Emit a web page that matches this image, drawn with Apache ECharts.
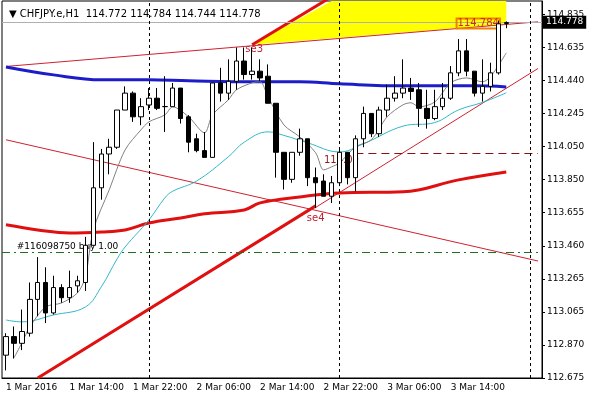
<!DOCTYPE html>
<html>
<head>
<meta charset="utf-8">
<script src="https://cdn.jsdelivr.net/npm/echarts@6/dist/echarts.min.js"></script>
<style>html,body{margin:0;padding:0;background:#fff}#chart{width:600px;height:400px}</style>
</head>
<body>
<div id="chart"></div>
<script>
// H1 bars, 1 Mar 2016 06:00 onwards: [open, close, low, high]
var candles = [
	[112.81,112.92,112.72,112.94],[112.92,112.88,112.79,112.98],[112.88,112.95,112.84,113.08],[112.94,113.14,112.92,113.24],
	[113.14,113.24,113.04,113.39],[113.24,113.06,113.00,113.33],[113.06,113.21,113.05,113.28],[113.21,113.15,113.12,113.23],
	[113.15,113.21,113.12,113.31],[113.22,113.25,113.18,113.28],[113.24,113.46,113.19,113.51],[113.46,113.80,113.46,114.07],
	[113.80,114.00,113.73,114.03],[114.00,114.04,113.88,114.09],[114.04,114.26,114.03,114.26],[114.26,114.36,114.26,114.40],
	[114.36,114.22,114.19,114.37],[114.22,114.28,114.17,114.33],[114.29,114.33,114.26,114.39],[114.33,114.27,114.26,114.39],
	[114.28,114.281,114.13,114.46],[114.28,114.39,114.28,114.42],[114.39,114.21,114.18,114.39],[114.22,114.07,114.01,114.23],
	[114.09,114.02,114.01,114.12],[114.02,113.98,113.98,114.13],[113.98,114.42,113.98,114.42],[114.42,114.36,114.31,114.51],
	[114.36,114.43,114.32,114.56],[114.43,114.55,114.38,114.63],[114.55,114.47,114.44,114.63],[114.47,114.49,114.44,114.63],
	[114.49,114.45,114.43,114.56],[114.46,114.30,114.30,114.53],[114.30,114.01,113.86,114.30],[114.01,113.85,113.79,114.01],
	[113.85,114.01,113.83,114.01],[114.01,114.09,113.99,114.15],[114.09,113.86,113.81,114.09],[113.86,113.83,113.68,113.92],
	[113.84,113.75,113.75,113.88],[113.75,113.83,113.71,113.87],[113.83,114.01,113.81,114.04],[114.01,113.86,113.82,114.01],
	[113.86,114.09,113.78,114.11],[114.09,114.24,114.04,114.28],[114.24,114.12,114.10,114.24],[114.12,114.26,114.10,114.28],
	[114.26,114.33,114.22,114.41],[114.33,114.36,114.31,114.46],[114.36,114.39,114.33,114.56],[114.39,114.37,114.32,114.45],
	[114.38,114.27,114.16,114.42],[114.27,114.21,114.15,114.38],[114.21,114.28,114.20,114.38],[114.28,114.33,114.26,114.42],
	[114.33,114.48,114.32,114.52],[114.48,114.61,114.46,114.68],[114.61,114.49,114.46,114.68],[114.49,114.36,114.34,114.49],
	[114.36,114.40,114.31,114.56],[114.40,114.48,114.37,114.54],[114.48,114.77,114.47,114.79],[114.772,114.778,114.744,114.784]
];
var slots = 68;
var timeLabels = ['1 Mar 2016','1 Mar 14:00','1 Mar 22:00','2 Mar 06:00','2 Mar 14:00','2 Mar 22:00','3 Mar 06:00','3 Mar 14:00','',''];
var priceTicks = ['112.675','112.870','113.065','113.265','113.460','113.655','113.850','114.050','114.245','114.440','114.635','114.835'];

// indicator lines: [bar index, price]
var maBlue = [[0,114.515],[6,114.468],[12,114.439],[18,114.439],[23,114.433],[31,114.427],[37,114.427],[42,114.415],[50,114.403],[59,114.403],[63,114.397]];
var maRed = [[0,113.581],[4,113.551],[8,113.533],[12,113.539],[15,113.551],[18,113.592],[22,113.622],[25,113.646],[30,113.669],[32,113.711],[37,113.746],[42,113.770],[50,113.776],[57,113.847],[63,113.894]];
var maCyan = [[0,113.018],[2,113.007],[6,113.048],[10,113.095],[12,113.214],[14,113.38],[15,113.45],[18,113.610],[20,113.74],[21,113.78],[24,113.84],[28,113.983],[30,114.07],[33,114.131],[35,114.11],[38,114.066],[42,114.012],[45,114.060],[50,114.165],[54,114.186],[57,114.261],[60,114.305],[63,114.362]];
var maGray = [[1,112.794],[2,112.882],[3,112.977],[5,113.095],[7,113.119],[9,113.178],[10,113.273],[11,113.551],[13,113.788],[15,114.024],[17,114.143],[18,114.190],[20,114.231],[21,114.279],[23,114.220],[25,114.125],[26,114.231],[28,114.320],[29,114.379],[31,114.421],[32,114.427],[33,114.338],[35,114.172],[37,114.101],[39,114.007],[40,113.906],[41,113.924],[42,113.947],[44,114.042],[46,114.084],[48,114.220],[50,114.291],[51,114.303],[52,114.279],[54,114.308],[56,114.421],[58,114.450],[60,114.427],[61,114.456],[63,114.598]];

// drawn objects
var channelTop = [[0,114.518],[67,114.782]];
var channelDown = [[0,114.084],[67,113.367]];
var trendUp = [[39,113.684],[67,114.506]];
var thickLow = [[4,112.675],[39,113.693]];
var thickHigh = [[31,114.646],[41,114.93]];
var triangle = [[31,114.646],[40.8,114.905],[63.4,114.905],[63.4,114.768]];

var cats = [];
for (var i = 0; i < slots; i++) {
	cats.push(i % 8 == 0 ? timeLabels[i / 8] : '');
}
var font = 'DejaVu Sans';

var chart = echarts.init(document.getElementById('chart'));
function plain(name, data, color, width, z, smooth) {
	return {name: name, type: 'line', data: data, symbol: 'none', silent: true, z: z || 3, smooth: smooth || false,
		lineStyle: {color: color, width: width}, animation: false};
}
option = {
	animation: false,
	title: {text: '\u25BC CHFJPY.e,H1  114.772 114.784 114.744 114.778', left: 4, top: 4,
		textStyle: {fontFamily: font, fontSize: 10, fontWeight: 'normal', color: '#000'}},
	grid: {left: 2, right: 58, top: 1, bottom: 22, show: true, borderColor: '#000', borderWidth: 1},
	xAxis: {type: 'category', data: cats, boundaryGap: true,
		axisLine: {lineStyle: {color: '#000'}},
		axisTick: {interval: 7, alignWithLabel: true, lineStyle: {color: '#000'}},
		axisLabel: {interval: 7, align: 'left', margin: 5, fontFamily: font, fontSize: 9, color: '#000'},
		splitLine: {show: false}},
	yAxis: {type: 'value', position: 'right', min: 112.675, max: 114.905, interval: 0.1955, scale: true,
		axisLine: {show: true, lineStyle: {color: '#000'}},
		axisTick: {show: true, length: 3, lineStyle: {color: '#000'}},
		axisLabel: {showMaxLabel: false, margin: 5, fontFamily: font, fontSize: 9, color: '#000',
			formatter: function (v) { return priceTicks[Math.round((v - 112.675) / 0.1955)] || ''; }},
		splitLine: {show: false}},
	series: [
		{type: 'custom', silent: true, z: 1,
			renderItem: function (params, api) {
				var pts = triangle.map(function (p) { return api.coord(p); });
				return {type: 'polygon', shape: {points: pts}, style: {fill: '#ffff00'}};
			},
			data: [0], clip: true},
		plain('channelTop', channelTop, '#d02030', 1, 2),
		plain('channelDown', channelDown, '#d02030', 1, 2),
		plain('trendUp', trendUp, '#d02030', 1, 2),
		plain('thickLow', thickLow, '#e01010', 3, 2),
		plain('thickHigh', thickHigh, '#e01010', 3, 2),
		plain('maBlue', maBlue, '#1c1cc8', 3, 3, 0.4),
		plain('maRed', maRed, '#e01010', 3, 3, 0.4),
		plain('maCyan', maCyan, '#30b8c8', 1, 3, 0.4),
		plain('maGray', maGray, '#808080', 1, 3, 0.3),
		{type: 'candlestick', data: candles, barWidth: 5, z: 5,
			itemStyle: {color: '#fff', color0: '#000', borderColor: '#000', borderColor0: '#000', borderWidth: 1},
			markLine: {symbol: 'none', silent: true, animation: false,
				data: [
					{yAxis: 114.778, lineStyle: {color: '#b0b0b0', type: 'solid', width: 1},
						label: {show: true, position: 'end', formatter: '114.778', distance: 1, backgroundColor: '#000', color: '#fff',
							fontFamily: font, fontSize: 9, padding: [2, 3]}},
					{yAxis: 113.415, lineStyle: {color: '#207020', type: [8, 4, 2, 4], width: 1}, label: {show: false}},
					[{coord: [44, 114.007], lineStyle: {color: '#901010', type: [8, 5], width: 1}, label: {show: false}}, {coord: [67, 114.007]}],
					{xAxis: 18, lineStyle: {color: '#000', type: [3, 3], width: 1}, label: {show: false}},
					{xAxis: 42, lineStyle: {color: '#000', type: [3, 3], width: 1}, label: {show: false}},
					{xAxis: 66, lineStyle: {color: '#000', type: [3, 3], width: 1}, label: {show: false}}
				]},
			markPoint: {symbol: 'rect', symbolSize: 0, silent: true, animation: false,
				data: [
					{coord: [63, 114.784], label: {show: true, formatter: '114.784', offset: [-28, 2], color: '#d03010',
						borderColor: '#f08000', borderWidth: 1, backgroundColor: 'rgba(255,255,0,0)', padding: [0, 1],
						fontFamily: font, fontSize: 10}},
					{coord: [31, 114.62], label: {show: true, formatter: 'se3', offset: [2, 0], color: '#c02030', fontFamily: font, fontSize: 10}},
					{coord: [39, 113.63], label: {show: true, formatter: 'se4', offset: [0, 2], color: '#c02030', fontFamily: font, fontSize: 10}},
					{coord: [43, 113.96], label: {show: true, formatter: '114.00', offset: [-6, 0], color: '#901818', fontFamily: font, fontSize: 10}},
					{coord: [7, 113.45], label: {show: true, formatter: '#116098750 buy 1.00', offset: [6, 0], color: '#000', fontFamily: font, fontSize: 9}}
				]}
		}
	]
};
chart.setOption(option);
</script>
</body>
</html>
